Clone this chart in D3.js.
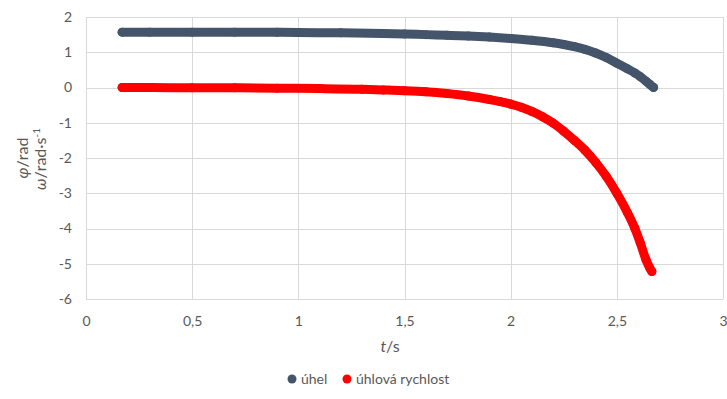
<!DOCTYPE html>
<html>
<head>
<meta charset="utf-8">
<script src="https://cdn.jsdelivr.net/npm/d3@7"></script>
<style>
  body { margin: 0; background: #fff; }
  text { font-family: Lato, "Open Sans", sans-serif; fill: #595959; }
</style>
</head>
<body>
<script>
// time samples (s) and readings for each series
const tAngle = [0.17, 0.3, 0.5, 0.7, 0.9, 1.0, 1.2, 1.4, 1.5, 1.6, 1.7, 1.8, 1.9, 2.0, 2.1, 2.2, 2.25, 2.3, 2.35, 2.4, 2.45, 2.5, 2.55, 2.585, 2.61, 2.637, 2.655, 2.673]
const angle = [1.57, 1.57, 1.57, 1.57, 1.565, 1.56, 1.55, 1.53, 1.52, 1.50, 1.48, 1.46, 1.43, 1.39, 1.34, 1.27, 1.22, 1.16, 1.08, 0.98, 0.85, 0.69, 0.53, 0.41, 0.31, 0.18, 0.09, 0.0]

const tOmega = [0.17, 0.3, 0.5, 0.7, 0.9, 1.1, 1.3, 1.4, 1.5, 1.6, 1.7, 1.8, 1.9, 1.95, 2.0, 2.05, 2.1, 2.15, 2.2, 2.25, 2.3, 2.35, 2.4, 2.45, 2.5, 2.55, 2.585, 2.61, 2.637, 2.655, 2.665]
const omega = [0.0, 0.0, -0.01, -0.01, -0.02, -0.03, -0.05, -0.07, -0.09, -0.12, -0.17, -0.24, -0.34, -0.40, -0.47, -0.56, -0.68, -0.83, -1.01, -1.24, -1.50, -1.78, -2.12, -2.52, -3.00, -3.55, -4.0, -4.40, -4.88, -5.12, -5.22]

const xTicks = [0, 0.5, 1, 1.5, 2, 2.5, 3]
const yTicks = [-6, -5, -4, -3, -2, -1, 0, 1, 2]

const seriesNames = ['úhel', 'úhlová rychlost']
const seriesColors = ['#44546a', '#ff0000']

const margin = {top: 17, right: 4, bottom: 100, left: 86},
  width = 727 - margin.left - margin.right,
  height = 399 - margin.top - margin.bottom

const svg = d3.select('body').append('svg')
    .attr('width', 727)
    .attr('height', 399),
  g = svg.append('g')
    .attr('transform', 'translate(' + margin.left + ',' + margin.top + ')')

const x = d3.scaleLinear().domain([0, 3]).range([0, width])
const y = d3.scaleLinear().domain([-6, 2]).range([height, 0])

// grid
g.selectAll('.vgrid')
  .data(xTicks)
  .enter().append('line')
  .attr('x1', d => Math.round(x(d)) + 0.5)
  .attr('x2', d => Math.round(x(d)) + 0.5)
  .attr('y1', 0).attr('y2', height)
  .attr('stroke', '#d9d9d9')

g.selectAll('.hgrid')
  .data(yTicks)
  .enter().append('line')
  .attr('y1', d => Math.round(y(d)) + 0.5)
  .attr('y2', d => Math.round(y(d)) + 0.5)
  .attr('x1', 0).attr('x2', width)
  .attr('stroke', '#d9d9d9')

// axes (labels only)
const fmt = d => String(d).replace('.', ',')
g.append('g')
  .attr('transform', 'translate(0,' + height + ')')
  .call(d3.axisBottom(x).tickValues(xTicks).tickFormat(fmt).tickSize(0).tickPadding(17))
g.append('g')
  .call(d3.axisLeft(y).tickValues(yTicks).tickFormat(d => String(d)).tickSize(0).tickPadding(14))
svg.selectAll('.domain').remove()
svg.selectAll('.tick text')
  .style('font-size', '14px')
  .style('fill', '#595959')
  .style('font-family', 'Lato, sans-serif')

// series
const line = d3.line()
  .x(d => x(d[0]))
  .y(d => y(d[1]))
  .curve(d3.curveMonotoneX)

const data = [
  d3.zip(tAngle, angle),
  d3.zip(tOmega, omega)
]

data.forEach(function (pts, i) {
  g.append('path')
    .datum(pts)
    .attr('d', line)
    .attr('fill', 'none')
    .attr('stroke', seriesColors[i])
    .attr('stroke-width', 9)
    .attr('stroke-linecap', 'round')
    .attr('stroke-linejoin', 'round')
  g.selectAll('.pt' + i)
    .data(pts)
    .enter().append('circle')
    .attr('cx', d => x(d[0]))
    .attr('cy', d => y(d[1]))
    .attr('r', 4.5)
    .attr('fill', seriesColors[i])
})

// axis titles
const xt = svg.append('text')
  .attr('x', 390).attr('y', 352)
  .attr('text-anchor', 'middle')
  .style('font-size', '16px')
xt.append('tspan').style('font-style', 'italic').text('t')
xt.append('tspan').text('/s')

const yt1 = svg.append('text')
  .attr('transform', 'translate(28,158) rotate(-90)')
  .attr('text-anchor', 'middle')
  .style('font-size', '16px')
yt1.append('tspan').style('font-style', 'italic').text('φ')
yt1.append('tspan').text('/rad')

const yt2 = svg.append('text')
  .attr('transform', 'translate(46,159) rotate(-90)')
  .attr('text-anchor', 'middle')
  .style('font-size', '16px')
yt2.append('tspan').style('font-style', 'italic').text('ω')
yt2.append('tspan').text('/rad·s')
yt2.append('tspan').attr('dy', -6).style('font-size', '10px').text('-1')

// legend
const legendX = [292, 347]
seriesNames.forEach(function (name, i) {
  svg.append('circle')
    .attr('cx', legendX[i]).attr('cy', 379)
    .attr('r', 4.5)
    .attr('fill', seriesColors[i])
  svg.append('text')
    .attr('x', legendX[i] + 9).attr('y', 384)
    .style('font-size', '14px')
    .text(name)
})
</script>
</body>
</html>
